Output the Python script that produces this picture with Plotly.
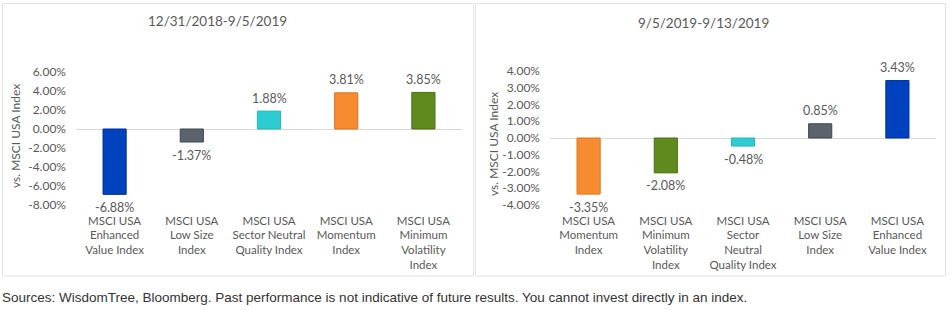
import plotly.graph_objects as go

W, H = 950, 310

left_title = "12/31/2018-9/5/2019"
left_cats = ["MSCI USA<br>Enhanced<br>Value Index", "MSCI USA<br>Low Size<br>Index",
             "MSCI USA<br>Sector Neutral<br>Quality Index", "MSCI USA<br>Momentum<br>Index",
             "MSCI USA<br>Minimum<br>Volatility<br>Index"]
left_vals = [-6.88, -1.37, 1.88, 3.81, 3.85]
left_colors = ["#0041BE", "#5B646D", "#2DCCD3", "#F68B2F", "#5E8A1E"]
left_lines = ["#00309A", "#3F474F", "#22B5BC", "#E07418", "#4A6F14"]
left_ticks = [-8, -6, -4, -2, 0, 2, 4, 6]

right_title = "9/5/2019-9/13/2019"
right_cats = ["MSCI USA<br>Momentum<br>Index", "MSCI USA<br>Minimum<br>Volatility<br>Index",
              "MSCI USA<br>Sector<br>Neutral<br>Quality Index", "MSCI USA<br>Low Size<br>Index",
              "MSCI USA<br>Enhanced<br>Value Index"]
right_vals = [-3.35, -2.08, -0.48, 0.85, 3.43]
right_colors = ["#F68B2F", "#5E8A1E", "#2DCCD3", "#5B646D", "#0041BE"]
right_lines = ["#E07418", "#4A6F14", "#22B5BC", "#3F474F", "#00309A"]
right_ticks = [-4, -3, -2, -1, 0, 1, 2, 3, 4]

y_title = "vs. MSCI USA Index"
footer = "Sources: WisdomTree, Bloomberg. Past performance is not indicative of future results. You cannot invest directly in an index."

FONT = "Lato"
GREY = "#595959"

def px_x(p):
    return p / W

def px_y(p):
    return 1 - p / H

def pct(v):
    return f"{v:.2f}%"

fig = go.Figure()
fig.add_trace(go.Bar(x=left_cats, y=left_vals, marker=dict(color=left_colors, line=dict(color=left_lines, width=1)),
                     width=0.3, xaxis="x", yaxis="y", showlegend=False, hoverinfo="x+y"))
fig.add_trace(go.Bar(x=right_cats, y=right_vals, marker=dict(color=right_colors, line=dict(color=right_lines, width=1)),
                     width=0.3, xaxis="x2", yaxis="y2", showlegend=False, hoverinfo="x+y"))

axis_font = dict(family=FONT, size=12, color=GREY)
cat_font = dict(family=FONT, size=11.5, color=GREY)
common_x = dict(showgrid=False, zeroline=False, showline=False, ticks="", tickfont=cat_font,
                tickangle=0, fixedrange=True, ticklabelstandoff=7, automargin=False)
common_y = dict(showgrid=False, zeroline=True, zerolinecolor="#D9D9D9", zerolinewidth=1, showline=False,
                ticks="", tickfont=axis_font, fixedrange=True, ticklabelstandoff=9, automargin=False)

fig.update_layout(
    width=W, height=H, margin=dict(l=0, r=0, t=0, b=0, pad=0, autoexpand=False), autosize=False,
    paper_bgcolor="white", plot_bgcolor="white",
    font=dict(family=FONT, color=GREY),
    xaxis=dict(domain=[px_x(76), px_x(462)], anchor="y", **common_x),
    yaxis=dict(domain=[px_y(205), px_y(72)], range=[-8, 6], tickvals=left_ticks,
               ticktext=[pct(v) for v in left_ticks], anchor="x", **common_y),
    xaxis2=dict(domain=[px_x(550), px_x(936)], anchor="y2", **common_x),
    yaxis2=dict(domain=[px_y(205), px_y(71)], range=[-4, 4], tickvals=right_ticks,
                ticktext=[pct(v) for v in right_ticks], anchor="x2", **common_y),
)

label_font = dict(family=FONT, size=12.5, color=GREY)
annotations = []
for cats, vals, xr, yr in [(left_cats, left_vals, "x", "y"), (right_cats, right_vals, "x2", "y2")]:
    for c, v in zip(cats, vals):
        annotations.append(dict(text=pct(v), x=c, y=v, xref=xr, yref=yr, showarrow=False,
                                xanchor="center", yanchor="middle", yshift=13 if v >= 0 else -13,
                                font=label_font))

annotations += [
    dict(text=left_title, x=px_x(217), y=px_y(21), xref="paper", yref="paper", showarrow=False,
         xanchor="center", yanchor="middle", font=dict(family=FONT, size=13.5, color=GREY)),
    dict(text=right_title, x=px_x(703), y=px_y(23), xref="paper", yref="paper", showarrow=False,
         xanchor="center", yanchor="middle", font=dict(family=FONT, size=13.5, color=GREY)),
    dict(text=y_title, x=px_x(15), y=px_y(136), xref="paper", yref="paper", showarrow=False, textangle=-90,
         xanchor="center", yanchor="middle", font=dict(family=FONT, size=12, color=GREY)),
    dict(text=y_title, x=px_x(493), y=px_y(144), xref="paper", yref="paper", showarrow=False, textangle=-90,
         xanchor="center", yanchor="middle", font=dict(family=FONT, size=12, color=GREY)),
    dict(text=footer, x=0, y=px_y(297), xref="paper", yref="paper", showarrow=False,
         xanchor="left", yanchor="middle", font=dict(family="Liberation Sans", size=13.5, color="#333333")),
]
fig.update_layout(annotations=annotations)

shapes = [
    dict(type="rect", xref="paper", yref="paper", x0=px_x(2.5), x1=px_x(473.5), y0=px_y(276), y1=px_y(3.5),
         line=dict(color="#E3E3E3", width=1), fillcolor="rgba(0,0,0,0)", layer="below"),
    dict(type="rect", xref="paper", yref="paper", x0=px_x(475.5), x1=px_x(945.5), y0=px_y(276), y1=px_y(3.5),
         line=dict(color="#E3E3E3", width=1), fillcolor="rgba(0,0,0,0)", layer="below"),
]
fig.update_layout(shapes=shapes)

fig.write_html("out.html", config={"responsive": False})
